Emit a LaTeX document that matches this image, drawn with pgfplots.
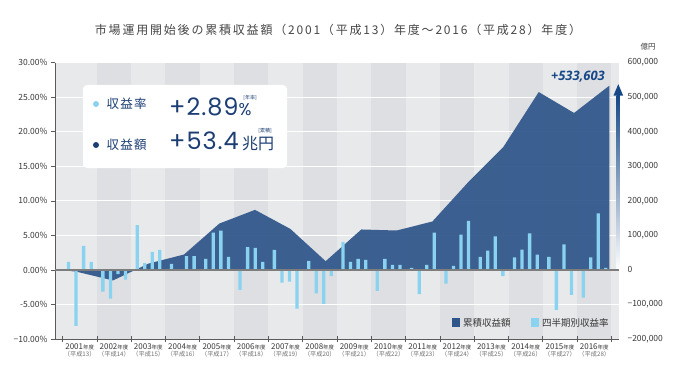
\documentclass[border=0pt]{standalone}
\usepackage{fontspec}
\setmainfont{Noto Sans CJK JP}
\newfontfamily\bignum{Poppins}
\newfontfamily\itnum{Open Sans}
\usepackage{pgfplots}
\pgfplotsset{compat=1.18}
\definecolor{areablue}{RGB}{46,86,138}
\definecolor{barblue}{RGB}{137,210,240}
\definecolor{legblue}{RGB}{28,62,115}
\definecolor{arrowblue}{RGB}{22,72,135}
\definecolor{bandlight}{RGB}{232,233,235}
\definecolor{banddark}{RGB}{222,223,226}
\definecolor{axisgray}{RGB}{90,90,90}
\definecolor{txtgray}{RGB}{55,55,55}
\definecolor{subgray}{RGB}{110,110,110}
\definecolor{zerogray}{RGB}{125,125,125}
\definecolor{titlegray}{RGB}{70,70,70}
\newcommand\yl[2]{#1{\fontsize{5.5}{6}\selectfont 年度}\\[-1pt]{\fontsize{6.2}{7}\selectfont\color{subgray}（平成#2）}}
\begin{document}
\begin{tikzpicture}[x=1pt,y=1pt]
\path[use as bounding box] (0,0) rectangle (679,389);
\pgfplotsset{base/.style={scale only axis, width=564pt, height=276.3pt, at={(55pt,50pt)}, anchor=south west, xmin=-0.22, xmax=16.22}}
% background bands
\begin{axis}[base, ymin=0, ymax=1, hide axis]
\fill[bandlight] (axis cs:-0.22,0) rectangle (axis cs:16.22,1);
\fill[banddark] (axis cs:1,0) rectangle (axis cs:2,1);
\fill[banddark] (axis cs:3,0) rectangle (axis cs:4,1);
\fill[banddark] (axis cs:5,0) rectangle (axis cs:6,1);
\fill[banddark] (axis cs:7,0) rectangle (axis cs:8,1);
\fill[banddark] (axis cs:9,0) rectangle (axis cs:10,1);
\fill[banddark] (axis cs:11,0) rectangle (axis cs:12,1);
\fill[banddark] (axis cs:13,0) rectangle (axis cs:14,1);
\fill[banddark] (axis cs:15,0) rectangle (axis cs:16,1);
\end{axis}
% cumulative area (right axis)
\begin{axis}[base, ymin=-200000, ymax=600000, clip=false,
  scaled y ticks=false,
  axis y line*=right, axis x line*=bottom,
  y axis line style={draw=none},
  ytick={-200000,-100000,0,100000,200000,300000,400000,500000,600000},
  yticklabels={{−200,000},{−100,000},0,{100,000},{200,000},{300,000},{400,000},{500,000},{600,000}},
  ytick style={draw=none},
  ymajorgrids, grid style={white, line width=0.9pt},
  xtick={0,...,16}, x tick label as interval,
  xticklabels={{\yl{2001}{13}},{\yl{2002}{14}},{\yl{2003}{15}},{\yl{2004}{16}},{\yl{2005}{17}},{\yl{2006}{18}},{\yl{2007}{19}},{\yl{2008}{20}},{\yl{2009}{21}},{\yl{2010}{22}},{\yl{2011}{23}},{\yl{2012}{24}},{\yl{2013}{25}},{\yl{2014}{26}},{\yl{2015}{27}},{\yl{2016}{28}}},
  xtick style={draw=axisgray, line width=0.7pt}, tick align=center, major tick length=6pt,
  x axis line style={draw=axisgray, line width=0.8pt},
  xticklabel style={align=center, font=\fontsize{8}{8.5}\selectfont, text=txtgray, inner sep=1pt},
  yticklabel style={font=\fontsize{8.5}{9}\selectfont, text=txtgray, xshift=2pt},
]
\addplot[fill=areablue, fill opacity=0.93, draw=none] coordinates {
(0,0) (0.44,-5874) (1.47,-30404) (2.51,18512) (3.54,44639) (4.57,134258)
(5.61,173949) (6.64,118771) (7.67,25290) (8.71,117140) (9.74,114141)
(10.78,140233) (11.81,252455) (12.84,354662) (13.88,515000) (14.91,454486)
(15.94,533603)} \closedcycle;
\shade[bottom color=white, top color=arrowblue] ([xshift=-1.6pt]axis cs:16.2,0) rectangle ([xshift=1.6pt]axis cs:16.2,505000);
\fill[arrowblue] (axis cs:16.2,538000) -- ([xshift=-4.8pt]axis cs:16.2,505000) -- ([xshift=4.8pt]axis cs:16.2,505000) -- cycle;
\end{axis}
% quarterly bars (left axis)
\begin{axis}[base, ymin=-10, ymax=30, axis y line*=left, axis x line=none,
  ytick={-10,-5,0,5,10,15,20,25,30},
  yticklabels={{−10.00\%},{-5.00\%},{0.00\%},{5.00\%},{10.00\%},{15.00\%},{20.00\%},{25.00\%},{30.00\%}},
  tick align=outside, major tick length=4pt, ytick style={draw=axisgray, line width=0.6pt},
  y axis line style={draw=axisgray, line width=0.8pt},
  yticklabel style={font=\fontsize{8.5}{9}\selectfont, text=txtgray},
  xtick=\empty]
\addplot[ybar, bar width=3.3pt, bar shift=0pt, fill=barblue, draw=none] coordinates {
(0.175,1.16) (0.395,-8.1) (0.615,3.5) (0.835,1.16)
(1.175,-3.15) (1.395,-4.17) (1.615,-0.6) (1.835,-1.4)
(2.175,6.5) (2.395,1.0) (2.615,2.6) (2.835,2.9)
(3.175,0.87) (3.395,-0.1) (3.615,2.0) (3.835,2.0)
(4.175,1.6) (4.395,5.4) (4.615,5.7) (4.835,1.9)
(5.175,-2.9) (5.395,3.3) (5.615,3.2) (5.835,1.16)
(6.175,2.9) (6.395,-1.84) (6.615,-1.7) (6.835,-5.6)
(7.175,1.3) (7.395,-3.4) (7.615,-4.9) (7.835,-0.9)
(8.175,4.07) (8.395,1.16) (8.615,1.6) (8.835,1.45)
(9.175,-3.05) (9.395,1.6) (9.615,0.73) (9.835,0.73)
(10.175,0.3) (10.395,-3.5) (10.615,0.73) (10.835,5.4)
(11.175,-2.0) (11.395,0.58) (11.615,5.1) (11.835,7.1)
(12.175,1.9) (12.395,2.8) (12.615,4.85) (12.835,-0.9)
(13.175,1.8) (13.395,2.95) (13.615,5.3) (13.835,2.2)
(14.175,1.9) (14.395,-5.8) (14.615,3.7) (14.835,-3.6)
(15.175,-4.0) (15.395,1.8) (15.615,8.2) (15.835,0.3)};
\draw[zerogray, line width=1.4pt] (axis cs:-0.22,0) -- (axis cs:16.22,0);
\end{axis}
% title and unit
\node[text=titlegray, font=\fontsize{12}{14}\selectfont\addfontfeature{LetterSpace=15}] at (338,359) {市場運用開始後の累積収益額（2001（平成13）年度～2016（平成28）年度）};
\node[text=txtgray, font=\fontsize{7.5}{8}\selectfont] at (648,342) {億円};
% value label
\node[text=arrowblue, font=\fontsize{13}{14}\itnum\bfseries\itshape] at (578,312) {+533,603};
% info box
\fill[white, rounded corners=4pt] (83,221) rectangle (287,304);
\fill[barblue] (96,285) circle (3pt);
\fill[legblue] (96,244) circle (3pt);
\node[anchor=west, text=legblue, font=\fontsize{12.5}{13}\selectfont\addfontfeature{LetterSpace=10}] at (103,285) {収益率};
\node[anchor=west, text=legblue, font=\fontsize{12.5}{13}\selectfont\addfontfeature{LetterSpace=10}] at (103,244) {収益額};
\node[anchor=base west, text=legblue, inner sep=0pt, font=\fontsize{24}{25}\bignum\addfontfeature{LetterSpace=4}] at (169,274) {+2.89{\fontsize{17}{18}\selectfont\%}};
\node[text=legblue, font=\fontsize{5}{6}\selectfont] at (250,291) {[年率]};
\node[anchor=base west, text=legblue, inner sep=0pt, font=\fontsize{24}{25}\bignum\addfontfeature{LetterSpace=4}] at (169,240) {+53.4};
\node[anchor=base west, text=legblue, inner sep=0pt, font=\fontsize{16}{17}\selectfont] at (242,240) {兆円};
\node[text=legblue, font=\fontsize{5}{6}\selectfont] at (265,258) {[累積]};
% bottom legend
\fill[areablue] (451.7,62.3) rectangle (459.7,70.7);
\node[anchor=west, text=txtgray, inner sep=0pt, font=\fontsize{9.5}{10}\selectfont] at (463,66.5) {累積収益額};
\fill[barblue] (530.5,62.3) rectangle (538.8,70.7);
\node[anchor=west, text=txtgray, inner sep=0pt, font=\fontsize{9.5}{10}\selectfont] at (542,66.5) {四半期別収益率};
\end{tikzpicture}
\end{document}
